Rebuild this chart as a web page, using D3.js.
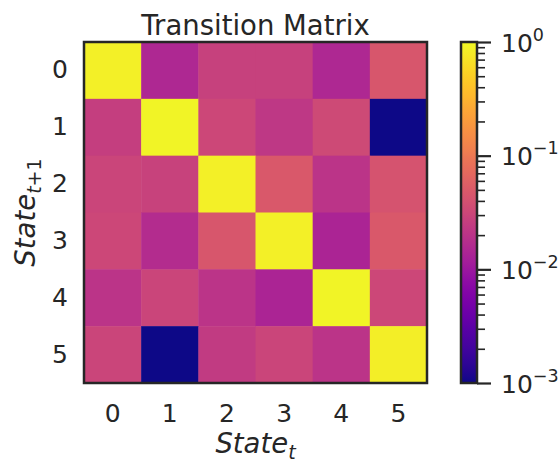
<!DOCTYPE html>
<html>
<head>
<meta charset="utf-8">
<script src="https://cdn.jsdelivr.net/npm/d3@7"></script>
<style>
  html, body { margin: 0; padding: 0; background: #ffffff; }
  svg { display: block; font-family: "DejaVu Sans", sans-serif; }
</style>
</head>
<body>
<svg id="chart" width="558" height="464"></svg>
<script>
// State indices (t on the x axis, t+1 on the y axis)
const states = ["0", "1", "2", "3", "4", "5"];

// Transition probabilities, one array per next state (row), indexed by current state (column)
const toState0 = [0.864, 0.015, 0.027, 0.027, 0.015, 0.045];
const toState1 = [0.026, 0.910, 0.032, 0.022, 0.034, 0.001];
const toState2 = [0.030, 0.028, 0.853, 0.048, 0.020, 0.042];
const toState3 = [0.032, 0.017, 0.045, 0.859, 0.014, 0.048];
const toState4 = [0.020, 0.030, 0.020, 0.014, 0.898, 0.032];
const toState5 = [0.030, 0.001, 0.024, 0.030, 0.020, 0.833];

// Colour bar range and labelled decades
const colorDomain = [1e-3, 1];
const decadeTicks = [1e-3, 1e-2, 1e-1, 1];
const decadeExponents = ["\u22123", "\u22122", "\u22121", "0"];

const rows = [toState0, toState1, toState2, toState3, toState4, toState5];
const cells = [];
rows.forEach((r, i) => r.forEach((v, j) => cells.push({ row: i, col: j, value: v })));

const ink = "#262626";
const svg = d3.select("#chart");

const plot = { left: 84, right: 427, top: 42, bottom: 383 };
const x = d3.scaleBand().domain(d3.range(states.length)).range([plot.left, plot.right]).padding(0);
const y = d3.scaleBand().domain(d3.range(states.length)).range([plot.top, plot.bottom]).padding(0);
const color = d3.scaleSequentialLog(d3.interpolatePlasma).domain(colorDomain).clamp(true);

// Heatmap cells
svg.append("g")
  .selectAll("rect")
  .data(cells)
  .join("rect")
  .attr("x", d => x(d.col))
  .attr("y", d => y(d.row))
  .attr("width", x.bandwidth() + 0.5)
  .attr("height", y.bandwidth() + 0.5)
  .attr("fill", d => color(d.value));

// Frame around the heatmap
svg.append("rect")
  .attr("x", plot.left).attr("y", plot.top)
  .attr("width", plot.right - plot.left).attr("height", plot.bottom - plot.top)
  .attr("fill", "none").attr("stroke", ink).attr("stroke-width", 2.5);

// Axes
const xAxis = svg.append("g")
  .attr("transform", `translate(0,${plot.bottom})`)
  .call(d3.axisBottom(x).tickSize(0).tickPadding(21).tickFormat(i => states[i]));
const yAxis = svg.append("g")
  .attr("transform", `translate(${plot.left},0)`)
  .call(d3.axisLeft(y).tickSize(0).tickPadding(16).tickFormat(i => states[i]));
[xAxis, yAxis].forEach(g => {
  g.select(".domain").remove();
  g.selectAll("text").attr("fill", ink).style("font-size", "25px")
    .style("font-family", "'DejaVu Sans', sans-serif");
});

// Title
svg.append("text")
  .attr("x", (plot.left + plot.right) / 2).attr("y", 35)
  .attr("text-anchor", "middle").attr("fill", ink)
  .style("font-size", "27.5px")
  .text("Transition Matrix");

// x-axis label: State_t
const xl = svg.append("text")
  .attr("x", (plot.left + plot.right) / 2).attr("y", 453)
  .attr("text-anchor", "middle").attr("fill", ink)
  .style("font-size", "27.5px");
xl.append("tspan").style("font-style", "italic").text("State");
xl.append("tspan").style("font-style", "italic").style("font-size", "19px")
  .attr("dy", 6).text("t");

// y-axis label: State_{t+1}
const yl = svg.append("text")
  .attr("transform", `translate(35,${(plot.top + plot.bottom) / 2}) rotate(-90)`)
  .attr("text-anchor", "middle").attr("fill", ink)
  .style("font-size", "27.5px");
yl.append("tspan").style("font-style", "italic").text("State");
const ysub = yl.append("tspan").style("font-size", "19px").attr("dy", 6);
ysub.append("tspan").style("font-style", "italic").text("t");
ysub.append("tspan").text("+1");

// Colour bar
const cb = { left: 461, width: 16 };
const cbScale = d3.scaleLog().domain(colorDomain).range([plot.bottom, plot.top]);

const defs = svg.append("defs");
const grad = defs.append("linearGradient")
  .attr("id", "cbGrad").attr("x1", 0).attr("y1", 1).attr("x2", 0).attr("y2", 0);
d3.range(0, 1.0001, 0.02).forEach(t => {
  grad.append("stop").attr("offset", t).attr("stop-color", d3.interpolatePlasma(t));
});

svg.append("rect")
  .attr("x", cb.left).attr("y", plot.top)
  .attr("width", cb.width).attr("height", plot.bottom - plot.top)
  .attr("fill", "url(#cbGrad)")
  .attr("stroke", ink).attr("stroke-width", 2.5);

// Minor ticks (2..9 x 10^k)
const minorTicks = cbScale.ticks().filter(v => !decadeTicks.some(d => Math.abs(v - d) < d * 1e-6));
const cbx = cb.left + cb.width;
svg.append("g")
  .attr("transform", `translate(${cbx},0)`)
  .call(d3.axisRight(cbScale).tickValues(minorTicks).tickSize(8).tickFormat(""))
  .call(g => g.select(".domain").remove())
  .call(g => g.selectAll("line").attr("stroke", ink).attr("stroke-width", 1.6));

// Major ticks with power-of-ten labels
const major = svg.append("g")
  .attr("transform", `translate(${cbx},0)`)
  .call(d3.axisRight(cbScale).tickValues(decadeTicks).tickSize(14).tickFormat(""))
  .call(g => g.select(".domain").remove())
  .call(g => g.selectAll("line").attr("stroke", ink).attr("stroke-width", 2.2));

major.selectAll(".tick").each(function (d, i) {
  const t = d3.select(this).append("text")
    .attr("x", 24).attr("y", 9)
    .attr("fill", ink).attr("text-anchor", "start")
    .style("font-size", "25px")
    .style("font-family", "'DejaVu Sans', sans-serif");
  t.append("tspan").text("10");
  t.append("tspan").style("font-size", "17.5px").attr("dy", -11).text(decadeExponents[i]);
});
</script>
</body>
</html>
